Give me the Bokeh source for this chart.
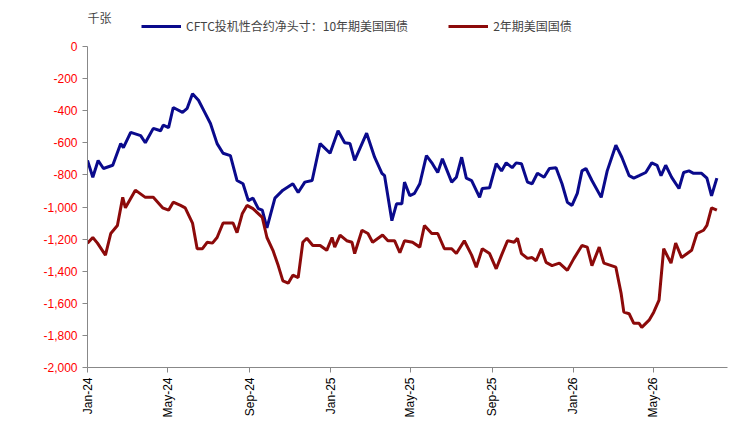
import datetime as dt
from bokeh.plotting import figure
from bokeh.layouts import column
from bokeh.models import Legend, LegendItem, Label, DatetimeTickFormatter, FixedTicker, Range1d, CustomJSTickFormatter
from bokeh.embed import file_html
from bokeh.resources import INLINE
import math

start = dt.datetime(2024, 1, 1)
blue_days = [0,8,16,24,38,50,54,65,80,87,99,110,114,122,129,143,150,158,167,177,185,195,204,215,225,234,242,249,257,263,270,282,294,309,317,327,338,350,365,377,387,395,402,420,432,443,447,458,465,473,477,485,492,500,510,519,527,534,548,555,563,570,578,590,594,605,615,623,630,639,645,653,662,669,677,687,695,705,714,722,729,737,744,750,759,773,782,795,804,815,822,830,840,849,857,863,870,879,890,897,905,912,924,932,939,947]
blue_vals = [-710,-815,-710,-760,-740,-605,-630,-535,-555,-600,-510,-525,-490,-505,-380,-410,-385,-295,-335,-415,-480,-605,-665,-680,-835,-855,-960,-945,-1010,-1020,-1130,-945,-895,-855,-910,-845,-835,-605,-665,-525,-600,-605,-710,-540,-690,-790,-805,-1085,-980,-980,-845,-930,-915,-855,-680,-730,-785,-700,-845,-815,-690,-820,-835,-940,-885,-880,-730,-775,-725,-755,-725,-730,-845,-855,-790,-815,-760,-755,-855,-970,-990,-915,-775,-760,-835,-940,-775,-615,-690,-805,-820,-805,-785,-725,-740,-805,-740,-815,-885,-785,-775,-790,-790,-820,-930,-820]
red_days = [0,8,15,27,35,45,53,57,72,87,99,113,122,129,140,147,158,165,173,180,188,195,204,219,225,233,240,249,263,270,279,287,294,302,309,317,324,330,339,350,360,368,372,380,390,398,402,413,422,429,444,452,462,470,477,489,500,507,518,527,537,548,555,567,578,585,594,605,615,623,632,642,647,653,662,669,675,683,690,699,710,722,732,744,752,759,770,777,795,803,807,815,822,830,834,845,852,860,867,878,885,894,909,917,927,932,939,947]
red_vals = [-1225,-1190,-1225,-1300,-1165,-1115,-940,-1005,-895,-940,-940,-1005,-1020,-970,-990,-1005,-1100,-1260,-1260,-1220,-1225,-1190,-1100,-1100,-1160,-1040,-990,-1010,-1065,-1190,-1270,-1365,-1460,-1475,-1425,-1440,-1220,-1195,-1240,-1240,-1270,-1190,-1250,-1175,-1210,-1220,-1290,-1145,-1165,-1220,-1175,-1210,-1210,-1285,-1210,-1220,-1250,-1115,-1165,-1165,-1260,-1260,-1290,-1210,-1300,-1375,-1260,-1290,-1385,-1300,-1210,-1220,-1195,-1290,-1320,-1315,-1335,-1260,-1345,-1365,-1350,-1395,-1320,-1240,-1250,-1365,-1250,-1350,-1375,-1540,-1655,-1665,-1725,-1725,-1750,-1705,-1655,-1580,-1260,-1350,-1225,-1315,-1270,-1165,-1145,-1115,-1005,-1020]
tick_labels_dates = ["2024-01-01","2024-05-01","2024-09-01","2025-01-01","2025-05-01","2025-09-01","2026-01-01","2026-05-01"]
y_ticks = list(range(-2000, 1, 200))
series_names = ["CFTC投机性合约净头寸：10年期美国国债", "2年期美国国债"]
unit_label = "千张"
colors = ["#0a0a8c", "#8c0a0a"]

bx = [start + dt.timedelta(days=d) for d in blue_days]
rx = [start + dt.timedelta(days=d) for d in red_days]

def ms(s):
    return dt.datetime.strptime(s, "%Y-%m-%d").replace(tzinfo=dt.timezone.utc).timestamp() * 1000

# header strip holding the legend and unit label (legend proxies lie outside its visible range)
h = figure(width=745, height=40, output_backend="svg", toolbar_location=None, min_border=0,
           x_axis_location=None, y_axis_location=None, x_range=(0, 1), y_range=(0, 1))
h.grid.visible = False
h.outline_line_color = None
hb = h.line([5, 6], [5, 5], line_color=colors[0], line_width=3)
hr = h.line([5, 6], [5, 5], line_color=colors[1], line_width=3)
hl = Legend(items=[LegendItem(label=series_names[0], renderers=[hb]), LegendItem(label=series_names[1], renderers=[hr])],
            orientation="horizontal", location=(54, 6), border_line_color=None, background_fill_alpha=0,
            label_text_font="Noto Sans CJK SC", label_text_font_size="12px", glyph_width=40, glyph_height=16,
            spacing=40, padding=2, margin=0, label_height=16)
h.add_layout(hl, "center")
h.add_layout(Label(x=0, y=15, x_units="screen", y_units="screen", text=unit_label,
                   text_font_size="12px", text_font="Noto Sans CJK SC"))

p = figure(width=745, height=395, x_axis_type="datetime", output_backend="svg", toolbar_location=None,
           min_border_left=87, min_border_right=18, min_border_top=6, min_border_bottom=68)
p.x_range = Range1d(start, start + dt.timedelta(days=963))
p.y_range = Range1d(-2000, 0)
p.outline_line_color = None
p.xgrid.visible = False
p.ygrid.visible = False

p.line(bx, blue_vals, line_color=colors[0], line_width=3)
p.line(rx, red_vals, line_color=colors[1], line_width=3)

p.yaxis.ticker = FixedTicker(ticks=y_ticks)
p.yaxis.formatter = CustomJSTickFormatter(code="return tick.toLocaleString('en-US');")
p.yaxis.major_label_text_color = "#ff0000"
p.yaxis.major_label_text_font = "Liberation Sans"
p.yaxis.major_label_text_font_size = "12px"
p.xaxis.ticker = FixedTicker(ticks=[ms(s) for s in tick_labels_dates])
p.xaxis.formatter = DatetimeTickFormatter(months="%b-%y", days="%b-%y", years="%b-%y")
p.xaxis.major_label_orientation = math.pi / 2
p.xaxis.major_label_text_font = "Liberation Sans"
p.xaxis.major_label_text_font_size = "12px"
p.xaxis.major_label_text_color = "#000000"
for ax in (p.xaxis, p.yaxis):
    ax.axis_line_color = "#888888"
    ax.major_tick_line_color = "#888888"
    ax.minor_tick_line_color = None
    ax.major_tick_in = 0
    ax.major_tick_out = 5

open("out.html", "w").write(file_html(column(h, p, spacing=0), INLINE))
